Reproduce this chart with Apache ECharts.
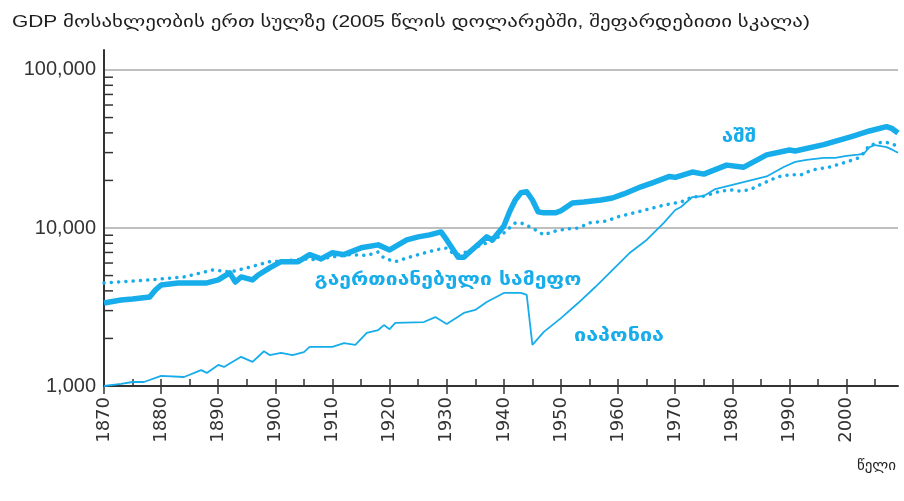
<!DOCTYPE html>
<html>
<head>
<meta charset="utf-8">
<script src="https://cdn.jsdelivr.net/npm/echarts@6/dist/echarts.min.js"></script>
<style>
  html, body { margin: 0; padding: 0; background: #fff; }
  #main { width: 904px; height: 501px; }
</style>
</head>
<body>
<div id="main"></div>
<script>
// GDP per capita, 2005 dollars
var usYears = [1870, 1873, 1875, 1878, 1879, 1880, 1883, 1886, 1888, 1890, 1892, 1893, 1894, 1896, 1897, 1899,
  1901, 1904, 1906, 1908, 1910, 1912, 1915, 1918, 1920, 1923, 1925, 1927, 1929, 1930, 1932, 1933, 1934, 1936,
  1937, 1938, 1939, 1940, 1941, 1942, 1943, 1944, 1945, 1946, 1947, 1949, 1950, 1952, 1954, 1957, 1959, 1961,
  1964, 1966, 1969, 1970, 1973, 1975, 1979, 1982, 1986, 1990, 1991, 1996, 2001, 2004, 2007, 2008, 2009]
var usGdp = [3350, 3500, 3550, 3660, 4050, 4360, 4490, 4490, 4490, 4690, 5200, 4550, 4900, 4690, 5040, 5590,
  6120, 6120, 6780, 6370, 6970, 6780, 7490, 7820, 7260, 8400, 8780, 9050, 9440, 8400, 6530, 6530, 7040, 8150,
  8780, 8400, 9300, 10280, 12660, 15040, 16700, 16950, 15040, 12660, 12470, 12470, 12850, 14380, 14600, 15040, 15480, 16420,
  18220, 19320, 21200, 20900, 22600, 21930, 25000, 24270, 29000, 31170, 30700, 33700, 38030, 41110, 43800, 42500, 39900]

var ukYears = [1870, 1878, 1884, 1889, 1891, 1892, 1895, 1899, 1902, 1905, 1907, 1910, 1913, 1916, 1918, 1919,
  1921, 1923, 1925, 1928, 1930, 1931, 1932, 1934, 1936, 1938, 1940, 1942, 1943, 1945, 1947, 1949, 1951, 1953,
  1955, 1958, 1960, 1964, 1968, 1971, 1973, 1975, 1978, 1980, 1981, 1983, 1985, 1988, 1990, 1992, 1994, 1997,
  2000, 2002, 2003, 2004, 2005, 2006, 2007, 2008, 2009]
var ukGdp = [4490, 4690, 4900, 5420, 5340, 5260, 5590, 6120, 6200, 6370, 6300, 6560, 6780, 6700, 7050, 6460,
  6120, 6460, 6780, 7260, 7470, 6950, 6780, 7150, 7820, 8270, 9300, 10770, 10770, 9990, 9040, 9570, 9860, 9990,
  10770, 11070, 11780, 12800, 13950, 14600, 15700, 15900, 17150, 17400, 17150, 17400, 18900, 21100, 21700, 21700, 23300, 24300,
  26200, 27700, 29800, 33500, 34000, 34800, 34800, 34000, 32800]

var jpYears = [1870, 1873, 1875, 1877, 1880, 1884, 1887, 1888, 1890, 1891, 1894, 1896, 1898, 1899, 1901, 1903,
  1905, 1906, 1910, 1912, 1914, 1916, 1918, 1919, 1920, 1921, 1926, 1928, 1930, 1933, 1935, 1937, 1940, 1943,
  1944, 1945, 1947, 1950, 1953, 1956, 1959, 1962, 1965, 1968, 1970, 1971, 1973, 1975, 1977, 1980, 1983, 1986,
  1989, 1991, 1993, 1996, 1998, 2000, 2002, 2003, 2004, 2005, 2006, 2007, 2008, 2009]
var jpGdp = [1000, 1030, 1060, 1060, 1160, 1140, 1260, 1210, 1360, 1320, 1530, 1420, 1660, 1570, 1620, 1570,
  1640, 1770, 1770, 1870, 1820, 2170, 2260, 2430, 2290, 2510, 2540, 2730, 2470, 2900, 3030, 3400, 3880, 3880,
  3770, 1820, 2200, 2690, 3350, 4230, 5420, 6940, 8400, 10770, 13000, 13580, 15700, 15940, 17650, 18740, 19930, 21200,
  24330, 26200, 27000, 27800, 27800, 28600, 29100, 29500, 32500, 33500, 33000, 32500, 31300, 29900]

var xLabels = [1870, 1880, 1890, 1900, 1910, 1920, 1930, 1940, 1950, 1960, 1970, 1980, 1990, 2000]
var xMinorTicks = [1870, 1875, 1880, 1885, 1890, 1895, 1900, 1905, 1910, 1915, 1920, 1925, 1930, 1935,
  1940, 1945, 1950, 1955, 1960, 1965, 1970, 1975, 1980, 1985, 1990, 1995, 2000, 2005]
var yLabels = [1000, 10000, 100000]
var yMinorTicks = [2000, 3000, 4000, 5000, 6000, 7000, 8000, 9000,
  20000, 30000, 40000, 50000, 60000, 70000, 80000, 90000]

var BLUE = '#17acea'
var GEO = "'DejaVu Sans', 'Liberation Sans', sans-serif"

function pairs(xs, ys) {
  return xs.map(function (x, i) { return [x, ys[i]] })
}

function fmt(v) {
  return String(v).replace(/\B(?=(\d{3})+(?!\d))/g, ',')
}

var chart = echarts.init(document.getElementById('main'))

var option = {
  animation: false,
  grid: { left: 104, right: 6, top: 50, bottom: 115 },
  graphic: [
    {
      type: 'text', x: 12, y: 14, scaleX: 1.23,
      style: {
        text: 'GDP მოსახლეობის ერთ სულზე (2005 წლის დოლარებში, შეფარდებითი სკალა)',
        font: "17px 'Liberation Sans', 'DejaVu Sans', sans-serif", fill: '#1e1e1e'
      }
    },
    {
      type: 'text', x: 739, y: 137, scaleX: 1.15,
      style: { text: 'აშშ', font: 'bold 18px ' + GEO, fill: BLUE, align: 'center', verticalAlign: 'middle' }
    },
    {
      type: 'text', x: 448, y: 280, scaleX: 1.17,
      style: { text: 'გაერთიანებული სამეფო', font: 'bold 18px ' + GEO, fill: BLUE, align: 'center', verticalAlign: 'middle' }
    },
    {
      type: 'text', x: 619, y: 336, scaleX: 1.2,
      style: { text: 'იაპონია', font: 'bold 18px ' + GEO, fill: BLUE, align: 'center', verticalAlign: 'middle' }
    },
    {
      type: 'text', right: 8, top: 458,
      style: { text: 'წელი', font: "15px 'Liberation Sans', 'DejaVu Sans', sans-serif", fill: '#222' }
    }
  ],
  xAxis: [
    {
      type: 'value', min: 1870, max: 2009, interval: 10,
      axisLine: { onZero: false, lineStyle: { color: '#333', width: 2 } },
      axisTick: { inside: false, length: 8, lineStyle: { color: '#333', width: 1.5 }, customValues: xLabels },
      axisLabel: {
        rotate: 90, margin: 11, color: '#333', fontSize: 18, fontFamily: 'DejaVu Sans',
        customValues: xLabels,
        formatter: function (v) { return String(v) }
      },
      splitLine: { show: false }
    },
    {
      type: 'value', min: 1870, max: 2009, interval: 5, position: 'bottom',
      axisLine: { show: false, onZero: false },
      axisTick: { inside: true, length: 7, lineStyle: { color: '#333', width: 1.5 }, customValues: xMinorTicks },
      axisLabel: { show: false },
      splitLine: { show: false }
    }
  ],
  yAxis: {
    type: 'log', logBase: 10, min: 1000, max: 133800,
    axisLine: { show: true, onZero: false, lineStyle: { color: '#333', width: 2 } },
    axisTick: { show: false },
    axisLabel: {
      color: '#333', fontSize: 20, fontFamily: 'Liberation Sans', margin: 8,
      customValues: yLabels,
      formatter: function (v) { return fmt(Math.round(v)) }
    },
    splitLine: { show: true, showMinLine: false, showMaxLine: false, lineStyle: { color: '#aaa', width: 1.5 } }
  },
  series: [
    {
      name: 'minor', type: 'custom', silent: true, z: 1,
      data: yMinorTicks.map(function (v) { return [1870, v] }),
      renderItem: function (params, api) {
        var p = api.coord([api.value(0), api.value(1)])
        return {
          type: 'line',
          shape: { x1: p[0], y1: p[1], x2: p[0] + 9, y2: p[1] },
          style: { stroke: '#333', lineWidth: 1.5 }
        }
      }
    },
    {
      name: 'uk', type: 'line', showSymbol: false, data: pairs(ukYears, ukGdp),
      lineStyle: { color: BLUE, width: 3.5, type: [0.1, 7.2], cap: 'round' }
    },
    {
      name: 'jp', type: 'line', showSymbol: false, data: pairs(jpYears, jpGdp),
      lineStyle: { color: BLUE, width: 1.8 }
    },
    {
      name: 'us', type: 'line', showSymbol: false, data: pairs(usYears, usGdp),
      lineStyle: { color: BLUE, width: 5.5, join: 'round' }
    }
  ]
}

chart.setOption(option)
</script>
</body>
</html>
